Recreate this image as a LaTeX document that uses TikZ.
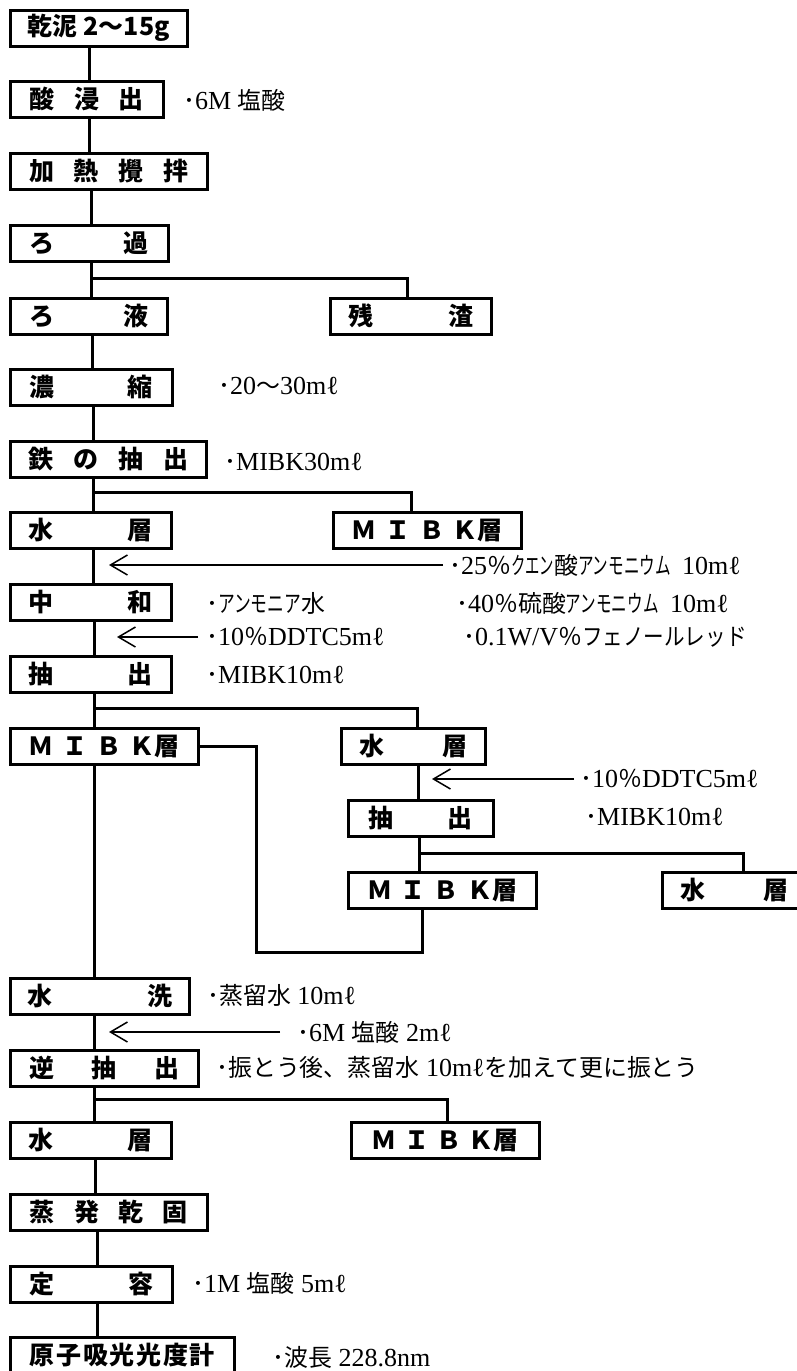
\documentclass[tikz,border=0pt]{standalone}
\usepackage{fontspec}
\usepackage{graphicx}
\setmainfont{Liberation Serif}
\newfontfamily\jp{Noto Sans CJK JP}[Scale=0.92]
\newfontfamily\jpbox{Noto Sans CJK JP}
\usetikzlibrary{arrows.meta}
\newcommand{\sprd}[2]{\hbox to #1pt{#2}}
\newcommand{\kn}[2][0.65]{\scalebox{#1}[1]{\jp #2}}
\tikzset{
  box/.style={draw, line width=2.5pt, anchor=north west, minimum height=36pt, inner sep=0pt, font=\jpbox\bfseries\fontsize{25}{28}\selectfont},
  link/.style={line width=3pt},
  feed/.style={line width=1.5pt, -{Straight Barb[length=17pt,width=20pt]}},
  note/.style={anchor=west, inner sep=0pt, font=\fontsize{26}{30}\selectfont},
}
\begin{document}
\begin{tikzpicture}[x=1pt, y=-1pt]
	\useasboundingbox (0,0) rectangle (797,1371);
	\clip (0,0) rectangle (797,1371);
	% process boxes
	\node[box, minimum width=177pt] (b1) at (9,9) {乾泥 2〜15g};
	\node[box, minimum width=153pt] (b2) at (9,80) {\sprd{114}{酸\hfill 浸\hfill 出}};
	\node[box, minimum width=197pt] (b3) at (9,152) {\sprd{159}{加\hfill 熱\hfill 攪\hfill 拌}};
	\node[box, minimum width=158pt] (b4) at (9,224) {\sprd{119}{ろ\hfill 過}};
	\node[box, minimum width=157pt] (b5) at (9,297) {\sprd{119}{ろ\hfill 液}};
	\node[box, minimum width=161pt] (b6) at (329,297) {\sprd{125}{残\hfill 渣}};
	\node[box, minimum width=162pt] (b7) at (9,368) {\sprd{123}{濃\hfill 縮}};
	\node[box, minimum width=196pt] (b8) at (9,440) {\sprd{160}{鉄\hfill の\hfill 抽\hfill 出}};
	\node[box, minimum width=161pt] (b9) at (9,511) {\sprd{124}{水\hfill 層}};
	\node[box, minimum width=188pt] (b10) at (332,511) {\sprd{151}{Ｍ\hfill Ｉ\hfill Ｂ\hfill Ｋ層}};
	\node[box, minimum width=161pt] (b11) at (9,583) {\sprd{124}{中\hfill 和}};
	\node[box, minimum width=161pt] (b12) at (9,655) {\sprd{124}{抽\hfill 出}};
	\node[box, minimum width=188pt] (b13) at (9,727) {\sprd{151}{Ｍ\hfill Ｉ\hfill Ｂ\hfill Ｋ層}};
	\node[box, minimum width=144pt] (b14) at (340,727) {\sprd{108}{水\hfill 層}};
	\node[box, minimum width=145pt] (b15) at (347,799) {\sprd{104}{抽\hfill 出}};
	\node[box, minimum width=188pt] (b16) at (347,871) {\sprd{150}{Ｍ\hfill Ｉ\hfill Ｂ\hfill Ｋ層}};
	\node[box, minimum width=144pt] (b17) at (661,871) {\sprd{108}{水\hfill 層}};
	\node[box, minimum width=179pt] (b18) at (9,977) {\sprd{145}{水\hfill 洗}};
	\node[box, minimum width=188pt] (b19) at (9,1049) {\sprd{150}{逆\hfill 抽\hfill 出}};
	\node[box, minimum width=161pt] (b20) at (9,1121) {\sprd{124}{水\hfill 層}};
	\node[box, minimum width=188pt] (b21) at (350,1121) {\sprd{147}{Ｍ\hfill Ｉ\hfill Ｂ\hfill Ｋ層}};
	\node[box, minimum width=197pt] (b22) at (9,1193) {\sprd{158}{蒸\hfill 発\hfill 乾\hfill 固}};
	\node[box, minimum width=162pt] (b23) at (9,1265) {\sprd{124}{定\hfill 容}};
	\node[box, minimum width=224pt] (b24) at (9,1336) {\sprd{185}{原\hfill 子\hfill 吸\hfill 光\hfill 光\hfill 度\hfill 計}};
	% reagents and conditions
	\node[note] (n1) at (183,100) {{\jp ･}6M {\jp 塩酸}};
	\node[note] (n2) at (218,386) {{\jp ･}20{\jp 〜}30mℓ};
	\node[note] (n3) at (224,462) {{\jp ･}MIBK30mℓ};
	\node[note] (n4) at (449,565) {{\jp ･}25{\jp ％}\kn[0.6]{クエン}{\jp 酸}\kn{アンモニウム}\hspace{5pt} 10mℓ};
	\node[note] (n5) at (206,603) {{\jp ･}\kn[0.7]{アンモニア}{\jp 水}};
	\node[note] (n6) at (456,603) {{\jp ･}40{\jp ％硫酸}\kn{アンモニウム}\hspace{5pt} 10mℓ};
	\node[note] (n7) at (206,637) {{\jp ･}10{\jp ％}DDTC5mℓ};
	\node[note] (n8) at (463,637) {{\jp ･}0.1W/V{\jp ％}\kn[0.86]{フェノールレッド}};
	\node[note] (n9) at (206,675) {{\jp ･}MIBK10mℓ};
	\node[note] (n10) at (580,779) {{\jp ･}10{\jp ％}DDTC5mℓ};
	\node[note] (n11) at (585,817) {{\jp ･}MIBK10mℓ};
	\node[note] (n12) at (207,995) {{\jp ･蒸留水} 10mℓ};
	\node[note] (n13) at (297,1032) {{\jp ･}6M {\jp 塩酸} 2mℓ};
	\node[note] (n14) at (216,1067) {{\jp ･振とう後、蒸留水} 10mℓ{\jp を加えて更に振とう}};
	\node[note] (n15) at (192,1283) {{\jp ･}1M {\jp 塩酸} 5mℓ};
	\node[note] (n16) at (272,1357) {{\jp ･波長} 228.8nm};
	% junctions and arrow tips
	\coordinate (j1) at (91,278);
	\coordinate (j2) at (93,492);
	\coordinate (j3) at (94,708);
	\coordinate (j4) at (419,853);
	\coordinate (j5) at (94,1099);
	\coordinate (t1) at (109,565);
	\coordinate (t2) at (117,637);
	\coordinate (t3) at (432,779);
	\coordinate (t4) at (109,1032);
	% flow lines
	\draw[link] (b1.south -| 89,0) -- (b2.north -| 89,0);
	\draw[link] (b2.south -| 89,0) -- (b3.north -| 89,0);
	\draw[link] (b3.south -| 91,0) -- (b4.north -| 91,0);
	\draw[link] (b4.south -| 91,0) -- (b5.north -| 91,0);
	\draw[link] (j1) -| (b6.north -| 407,0);
	\draw[link] (b5.south -| 92,0) -- (b7.north -| 92,0);
	\draw[link] (b7.south -| 93,0) -- (b8.north -| 93,0);
	\draw[link] (b8.south -| 93,0) -- (b9.north -| 93,0);
	\draw[link] (j2) -| (b10.north -| 411,0);
	\draw[link] (b9.south -| 93,0) -- (b11.north -| 93,0);
	\draw[link] (b11.south -| 94,0) -- (b12.north -| 94,0);
	\draw[link] (b12.south -| 94,0) -- (b13.north -| 94,0);
	\draw[link] (j3) -| (b14.north -| 417,0);
	\draw[link] (b14.south -| 418,0) -- (b15.north -| 418,0);
	\draw[link] (b15.south -| 419,0) -- (b16.north -| 419,0);
	\draw[link] (j4) -| (b17.north -| 743,0);
	\draw[link] (b16.south -| 422,0) |- (256,952) |- (b13.east);
	\draw[link] (b13.south -| 94,0) -- (b18.north -| 94,0);
	\draw[link] (b18.south -| 94,0) -- (b19.north -| 94,0);
	\draw[link] (b19.south -| 94,0) -- (b20.north -| 94,0);
	\draw[link] (j5) -| (b21.north -| 447,0);
	\draw[link] (b20.south -| 95,0) -- (b22.north -| 95,0);
	\draw[link] (b22.south -| 97,0) -- (b23.north -| 97,0);
	\draw[link] (b23.south -| 97,0) -- (b24.north -| 97,0);
	% additions
	\draw[feed, shorten <=6pt] (n4.west) -- (t1);
	\draw[feed, shorten <=8pt] (n7.west) -- (t2);
	\draw[feed, shorten <=6pt] (n10.west) -- (t3);
	\draw[feed, shorten <=17pt] (n13.west) -- (t4);
\end{tikzpicture}
\end{document}
